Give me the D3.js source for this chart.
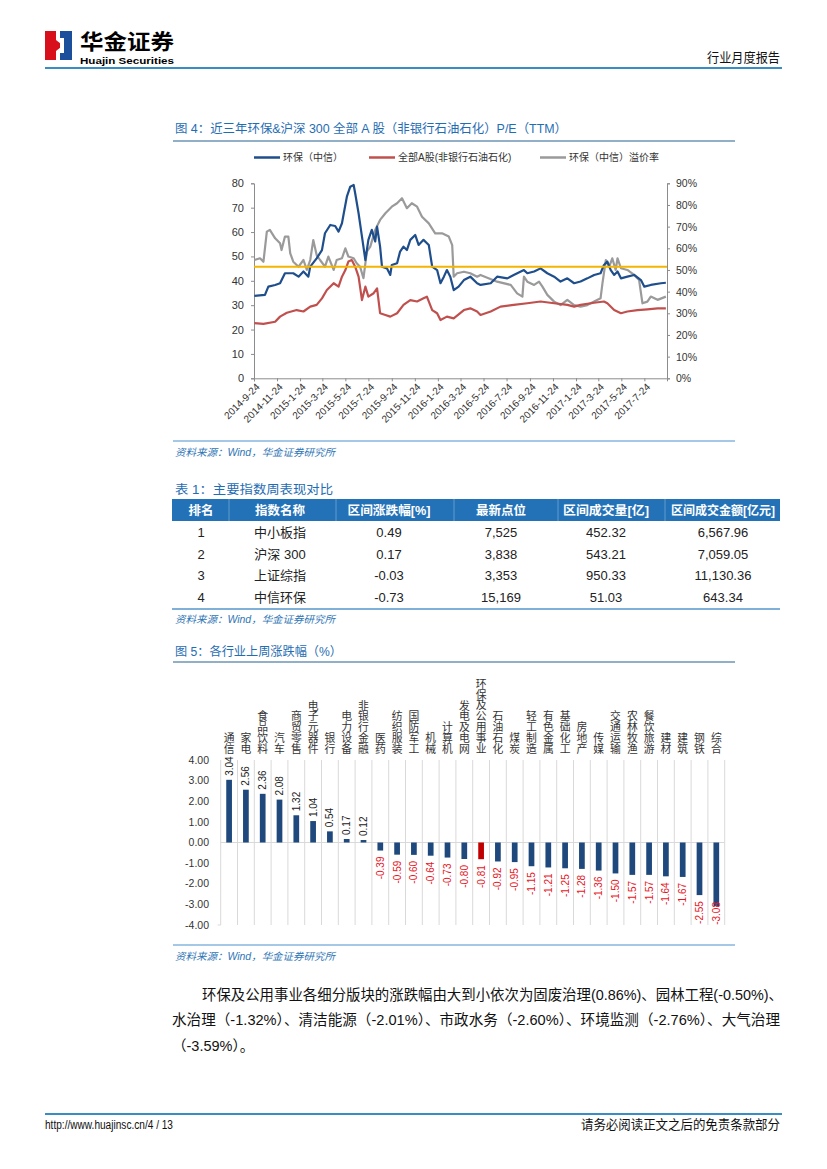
<!DOCTYPE html>
<html><head><meta charset="utf-8">
<script src="https://cdn.jsdelivr.net/npm/d3@7"></script>
<style>body{margin:0;background:#fff}svg{display:block}</style>
</head><body><svg id="page" width="827" height="1169"></svg>
<script>
// ---------------- DATA ----------------
// Figure 4: P/E (TTM) series [date, value]
const envPE = [["2014-09-25",33.8],["2014-10-23",34.2],["2014-11-01",37.6],["2014-11-19",38.3],["2014-12-02",39.0],["2014-12-15",43.1],["2015-01-06",43.1],["2015-01-20",41.7],["2015-02-02",43.8],["2015-02-15",41.7],["2015-02-20",45.8],["2015-03-09",49.2],["2015-03-23",52.6],["2015-03-31",59.5],["2015-04-14",62.9],["2015-04-27",62.5],["2015-05-06",60.2],["2015-05-15",63.6],["2015-05-19",67.0],["2015-05-28",74.5],["2015-06-06",78.6],["2015-06-15",79.3],["2015-06-19",75.9],["2015-06-28",67.7],["2015-07-07",58.1],["2015-07-16",48.5],["2015-07-24",56.8],["2015-08-02",60.9],["2015-08-11",56.1],["2015-08-16",62.2],["2015-08-24",54.0],["2015-08-29",45.8],["2015-09-11",45.1],["2015-09-20",42.4],["2015-09-24",46.5],["2015-10-08",47.2],["2015-10-16",52.0],["2015-10-25",54.0],["2015-11-03",52.6],["2015-11-12",56.8],["2015-11-25",58.8],["2015-12-04",54.7],["2015-12-17",56.8],["2015-12-31",54.7],["2016-01-09",45.8],["2016-01-22",44.4],["2016-01-31",39.0],["2016-02-09",41.7],["2016-02-17",44.4],["2016-02-26",41.7],["2016-03-06",36.2],["2016-03-19",37.6],["2016-04-02",40.3],["2016-04-19",41.7],["2016-05-07",39.0],["2016-05-16",38.3],["2016-06-12",39.0],["2016-06-29",41.7],["2016-07-26",41.0],["2016-08-12",42.4],["2016-09-08",44.4],["2016-09-17",43.1],["2016-10-05",43.8],["2016-10-22",45.1],["2016-11-09",43.1],["2016-11-27",41.7],["2016-12-14",39.7],["2017-01-01",41.0],["2017-01-19",39.0],["2017-02-05",39.7],["2017-02-23",41.0],["2017-03-13",42.4],["2017-03-30",43.1],["2017-04-08",46.5],["2017-04-17",47.9],["2017-04-26",44.4],["2017-05-05",42.4],["2017-05-14",43.8],["2017-05-23",41.0],["2017-06-09",41.7],["2017-06-27",42.4],["2017-07-15",40.3],["2017-07-24",37.6],["2017-08-10",38.3],["2017-09-06",39.0],["2017-09-19",39.2]];
const allAPE = [["2014-09-25",22.6],["2014-10-19",22.3],["2014-11-19",23.2],["2014-12-02",25.3],["2014-12-20",26.9],["2015-01-15",28.0],["2015-02-02",27.4],["2015-02-20",29.4],["2015-03-09",30.1],["2015-03-23",32.8],["2015-04-05",36.2],["2015-04-23",39.0],["2015-05-06",37.6],["2015-05-15",41.7],["2015-05-24",44.4],["2015-06-01",47.9],["2015-06-10",48.5],["2015-06-19",45.8],["2015-06-28",41.7],["2015-07-07",32.1],["2015-07-16",37.6],["2015-07-24",33.5],["2015-08-07",34.9],["2015-08-16",36.9],["2015-08-24",26.7],["2015-09-07",26.0],["2015-09-20",25.3],["2015-10-08",26.7],["2015-10-25",30.1],["2015-11-12",32.1],["2015-11-30",31.5],["2015-12-17",32.8],["2015-12-26",33.5],["2016-01-09",28.0],["2016-01-22",26.7],["2016-01-31",23.9],["2016-02-17",25.3],["2016-03-06",24.6],["2016-04-02",28.0],["2016-04-19",28.7],["2016-05-07",27.4],["2016-05-16",26.0],["2016-06-12",27.4],["2016-07-08",29.4],["2016-08-12",30.1],["2016-09-17",30.8],["2016-10-22",31.5],["2016-11-27",30.8],["2017-01-01",30.1],["2017-01-19",29.4],["2017-02-05",30.1],["2017-03-13",31.0],["2017-04-08",31.5],["2017-04-17",30.8],["2017-05-05",28.0],["2017-05-23",26.7],["2017-06-09",27.4],["2017-07-06",28.0],["2017-08-01",28.3],["2017-08-28",28.7],["2017-09-19",28.7]];
const premiumPct = [["2014-09-25",54.6],["2014-10-10",55.4],["2014-10-19",53.8],["2014-10-28",67.7],["2014-11-05",68.5],["2014-11-19",64.6],["2014-12-02",62.3],["2014-12-06",59.2],["2014-12-15",65.4],["2014-12-24",65.4],["2014-12-29",57.7],["2015-01-06",53.8],["2015-01-20",51.5],["2015-02-02",54.6],["2015-02-11",50.0],["2015-02-20",54.6],["2015-02-28",63.8],["2015-03-09",56.9],["2015-03-18",54.6],["2015-03-31",51.5],["2015-04-09",56.2],["2015-04-23",50.0],["2015-05-01",54.6],["2015-05-15",55.4],["2015-05-24",60.0],["2015-06-01",56.2],["2015-06-15",55.4],["2015-06-23",53.1],["2015-07-02",51.5],["2015-07-11",46.2],["2015-07-20",58.5],["2015-07-29",60.8],["2015-08-11",68.5],["2015-08-24",73.1],["2015-09-07",76.2],["2015-09-24",79.2],["2015-10-08",80.8],["2015-10-21",83.1],["2015-11-03",78.5],["2015-11-16",80.8],["2015-11-30",79.2],["2015-12-13",74.6],["2015-12-31",71.5],["2016-01-17",66.9],["2016-02-04",66.9],["2016-02-22",65.4],["2016-03-02",61.5],["2016-03-06",46.9],["2016-03-15",48.5],["2016-04-02",49.2],["2016-04-19",48.5],["2016-05-07",46.9],["2016-05-16",47.7],["2016-06-29",44.6],["2016-08-04",43.1],["2016-08-21",39.2],["2016-09-04",37.7],["2016-09-08",46.9],["2016-09-17",44.6],["2016-10-05",43.1],["2016-10-18",44.6],["2016-10-27",42.3],["2016-11-09",38.5],["2016-11-27",35.4],["2016-12-14",33.8],["2017-01-01",36.2],["2017-01-19",33.8],["2017-02-05",33.1],["2017-02-23",33.8],["2017-03-13",35.4],["2017-03-30",36.9],["2017-04-04",43.8],["2017-04-13",54.6],["2017-04-22",51.5],["2017-04-30",55.4],["2017-05-09",50.0],["2017-05-14",55.4],["2017-05-23",50.8],["2017-06-09",50.0],["2017-06-27",47.7],["2017-07-10",45.4],["2017-07-19",34.6],["2017-08-01",35.4],["2017-08-10",37.7],["2017-08-28",36.2],["2017-09-19",37.7]];
const premiumRefPct = 51.5;
const fig4Domain = ["2014-09-24","2017-09-22"];
const fig4XTicks = ["2014-9-24","2014-11-24","2015-1-24","2015-3-24","2015-5-24","2015-7-24","2015-9-24","2015-11-24","2016-1-24","2016-3-24","2016-5-24","2016-7-24","2016-9-24","2016-11-24","2017-1-24","2017-3-24","2017-5-24","2017-7-24"];
const fig4LeftTicks = [0,10,20,30,40,50,60,70,80];
const fig4RightTicks = [0,10,20,30,40,50,60,70,80,90];
const fig4Legend = ["环保（中信）","全部A股(非银行石油石化)","环保（中信）溢价率"];

// Table 1
const tableHeader = ["排名","指数名称","区间涨跌幅[%]","最新点位","区间成交量[亿]","区间成交金额[亿元]"];
const tRank = ["1","2","3","4"];
const tName = ["中小板指","沪深 300","上证综指","中信环保"];
const tChange = ["0.49","0.17","-0.03","-0.73"];
const tLast = ["7,525","3,838","3,353","15,169"];
const tVolume = ["452.32","543.21","950.33","51.03"];
const tAmount = ["6,567.96","7,059.05","11,130.36","643.34"];

// Figure 5
const industries = ["通信","家电","食品饮料","汽车","商贸零售","电子元器件","银行","电力设备","非银行金融","医药","纺织服装","国防军工","机械","计算机","发电及电网","环保及公用事业","石油石化","煤炭","轻工制造","有色金属","基础化工","房地产","传媒","交通运输","农林牧渔","餐饮旅游","建材","建筑","钢铁","综合"];
const weeklyChange = [3.04,2.56,2.36,2.08,1.32,1.04,0.54,0.17,0.12,-0.39,-0.59,-0.60,-0.64,-0.73,-0.80,-0.81,-0.92,-0.95,-1.15,-1.21,-1.25,-1.28,-1.36,-1.50,-1.57,-1.57,-1.64,-1.67,-2.55,-3.08];
const highlightIndustry = "环保及公用事业";
const fig5YTicks = [4,3,2,1,0,-1,-2,-3,-4];

const paragraph = ["环保及公用事业各细分版块的涨跌幅由大到小依次为固废治理(0.86%)、园林工程(-0.50%)、",
  "水治理（-1.32%）、清洁能源（-2.01%）、市政水务（-2.60%）、环境监测（-2.76%）、大气治理",
  "（-3.59%）。"];

// ---------------- DRAW ----------------
const FONT = "'Liberation Sans', Arial, 'Noto Sans CJK SC', sans-serif";
const CJK = "'Noto Sans CJK SC', sans-serif";
const svg = d3.select("#page");
svg.append("rect").attr("width",827).attr("height",1169).attr("fill","#fff");
function T(x,y,s,o={}){
  const t = svg.append("text").attr("x",x).attr("y",y).text(s)
    .attr("font-family",o.family||FONT).attr("font-size",o.size||12)
    .attr("fill",o.fill||"#000");
  if(o.anchor) t.attr("text-anchor",o.anchor);
  if(o.weight) t.attr("font-weight",o.weight);
  if(o.style) t.attr("font-style",o.style);
  if(o.len) t.attr("textLength",o.len).attr("lengthAdjust","spacingAndGlyphs");
  return t;
}
function L(x1,y1,x2,y2,c,w){ svg.append("line").attr("x1",x1).attr("y1",y1).attr("x2",x2).attr("y2",y2).attr("stroke",c).attr("stroke-width",w); }

// Header
svg.append("rect").attr("x",45).attr("y",31).attr("width",11).attr("height",29).attr("fill","#d8101c");
svg.append("rect").attr("x",60).attr("y",31).attr("width",12).attr("height",29).attr("fill","#1b4f9c");
svg.append("path").attr("d","M56,40 L63,45.5 L56,51 Z").attr("fill","#d8101c");
svg.append("path").attr("d","M60,38 L64,38 L64,53 L60,53 Z").attr("fill","#fff");
T(80,48.5,"华金证券",{size:21,weight:"bold",len:94,family:CJK});
T(80,63.5,"Huajin Securities",{size:9.5,weight:"bold",len:94});
T(780,62,"行业月度报告",{size:13,anchor:"end",len:73,fill:"#111"});
L(45,68,782,68,"#3a8cc4",2);

// ---------- Figure 4 ----------
const TITLE_BLUE = "#1f6db3";
T(175,133,"图 4：近三年环保&沪深 300 全部 A 股（非银行石油石化）P/E（TTM）",{size:12.5,fill:TITLE_BLUE,len:392});
L(173,141,735,141,"#24628f",1.2);

const parse = d3.timeParse("%Y-%m-%d");
const parseTick = d3.timeParse("%Y-%-m-%-d");
const x4 = d3.scaleTime().domain(fig4Domain.map(parse)).range([254,667]);
const yL = d3.scaleLinear().domain([0,80]).range([378.3,183.3]);
const yR = d3.scaleLinear().domain([0,90]).range([378.3,183.3]);

// left axis
const axL = svg.append("g").attr("transform","translate(254,0)")
  .call(d3.axisLeft(yL).tickValues(fig4LeftTicks).tickSize(3).tickPadding(7));
axL.select(".domain").attr("stroke","#8c8c8c");
axL.selectAll(".tick line").attr("stroke","#8c8c8c");
axL.selectAll("text").attr("font-family",FONT).attr("font-size",11).attr("fill","#333");
// right axis
const axR = svg.append("g").attr("transform","translate(667,0)")
  .call(d3.axisRight(yR).tickValues(fig4RightTicks).tickFormat(d=>d+"%").tickSize(3).tickPadding(6));
axR.select(".domain").attr("stroke","#8c8c8c");
axR.selectAll(".tick line").attr("stroke","#8c8c8c");
axR.selectAll("text").attr("font-family",FONT).attr("font-size",10.5).attr("fill","#333");
// bottom axis
const tickDates = fig4XTicks.map(parseTick);
const axB = svg.append("g").attr("transform","translate(0,378.3)")
  .call(d3.axisBottom(x4).tickValues(tickDates).tickSize(3).tickFormat(()=>""));
axB.select(".domain").attr("stroke","#8c8c8c");
axB.selectAll(".tick line").attr("stroke","#8c8c8c");
svg.append("g").selectAll("text").data(fig4XTicks).join("text")
  .attr("transform",(d,i)=>`translate(${x4(tickDates[i])+4},385) rotate(-45)`)
  .attr("text-anchor","end").attr("dy","0.35em")
  .attr("font-family",FONT).attr("font-size",10).attr("fill","#333").text(d=>d);

// lines
const lineL = d3.line().x(d=>x4(parse(d[0]))).y(d=>yL(d[1]));
const lineR = d3.line().x(d=>x4(parse(d[0]))).y(d=>yR(d[1]));
svg.append("path").datum(premiumPct).attr("d",lineR).attr("fill","none").attr("stroke","#9a9a9a").attr("stroke-width",2.2).attr("stroke-linejoin","round");
svg.append("path").datum(allAPE).attr("d",lineL).attr("fill","none").attr("stroke","#c0504d").attr("stroke-width",2.2).attr("stroke-linejoin","round");
svg.append("path").datum(envPE).attr("d",lineL).attr("fill","none").attr("stroke","#1f4e8c").attr("stroke-width",2.2).attr("stroke-linejoin","round");
svg.append("line").attr("x1",x4.range()[0]).attr("x2",x4.range()[1]).attr("y1",yR(premiumRefPct)).attr("y2",yR(premiumRefPct))
  .attr("stroke","#f5b400").attr("stroke-width",2);

// legend
const legColors = ["#1f4e8c","#c0504d","#9a9a9a"];
const legX = [254,369,540];
fig4Legend.forEach((s,i)=>{
  L(legX[i],157.5,legX[i]+26,157.5,legColors[i],2.5);
  T(legX[i]+29,161,s,{size:10,fill:"#333"});
});

L(173,441,735,441,"#86b6dc",1.5);
T(175,456,"资料来源：Wind，华金证券研究所",{size:10,fill:"#2e75b6",style:"italic",len:160});

// ---------- Table 1 ----------
T(175,494,"表 1：主要指数周表现对比",{size:12.5,fill:TITLE_BLUE,len:158});
svg.append("rect").attr("x",172).attr("y",499).attr("width",608).attr("height",22).attr("fill","#2372b8");
[229,336,454,558,665].forEach(x=>L(x,499,x,521,"#5f9bd0",1));
const colX = [201,280,389,501,606,723];
const headLen = [null,null,83,null,86,104];
tableHeader.forEach((s,i)=>T(colX[i],515,s,{size:12.5,weight:"bold",fill:"#fff",anchor:"middle",len:headLen[i]}));
const cols = [tRank,tName,tChange,tLast,tVolume,tAmount];
const rowY = [537,558.5,580,601.5];
cols.forEach((col,ci)=>col.forEach((s,ri)=>T(colX[ci],rowY[ri],s,{size:13,fill:"#222",anchor:"middle"})));
L(172,609,780,609,"#7fb0d8",2);
T(175,623,"资料来源：Wind，华金证券研究所",{size:10,fill:"#2e75b6",style:"italic",len:160});

// ---------- Figure 5 ----------
T(175,656,"图 5：各行业上周涨跌幅（%）",{size:12.5,fill:TITLE_BLUE,len:167});
L(173,662,735,662,"#24628f",1.2);

const x5 = d3.scaleBand().domain(industries).range([220.7,724.7]).padding(0);
const y5 = d3.scaleLinear().domain([-4,4]).range([925,760]);
const fmt = d3.formatLocale({decimal:".",thousands:",",grouping:[3],currency:["",""],minus:"-"}).format(".2f");
// grid verticals
const bounds = industries.map(d=>x5(d)).concat([x5.range()[1]]);
svg.append("g").selectAll("line").data(bounds).join("line")
  .attr("x1",d=>d).attr("x2",d=>d).attr("y1",y5(4)).attr("y2",y5(-4))
  .attr("stroke","#d9d9d9").attr("stroke-width",1);
L(x5.range()[0],y5(0),x5.range()[1],y5(0),"#d9d9d9",1);
L(x5.range()[0]-3,y5(-4),x5.range()[0],y5(-4),"#d9d9d9",1);
// y axis labels
svg.append("g").selectAll("text").data(fig5YTicks).join("text")
  .attr("x",209).attr("y",d=>y5(d)).attr("dy","0.35em").attr("text-anchor","end")
  .attr("font-family",FONT).attr("font-size",10.5).attr("fill","#333").text(d=>fmt(d));
// bars
const bw = x5.bandwidth()*0.34;
svg.append("g").selectAll("rect").data(industries).join("rect")
  .attr("x",d=>x5(d)+x5.bandwidth()/2-bw/2).attr("width",bw)
  .attr("y",(d,i)=>y5(Math.max(0,weeklyChange[i])))
  .attr("height",(d,i)=>Math.abs(y5(weeklyChange[i])-y5(0)))
  .attr("fill",d=>d===highlightIndustry?"#c00000":"#1f497d");
// value labels
svg.append("g").selectAll("text").data(industries).join("text")
  .attr("transform",(d,i)=>{
    const v=weeklyChange[i], cx=x5(d)+x5.bandwidth()/2+3.5;
    if(v>=0) return `translate(${cx},${y5(v)-4}) rotate(-90)`;
    return `translate(${cx},${Math.min(y5(v)+6, 902)}) rotate(-90)`;
  })
  .attr("text-anchor",(d,i)=>weeklyChange[i]>=0?"start":"end")
  .attr("font-family",FONT).attr("font-size",10)
  .attr("fill",(d,i)=>weeklyChange[i]>=0?"#222":"#e8141e")
  .text((d,i)=>fmt(weeklyChange[i]));
// category labels: vertical upright text
svg.append("g").selectAll("text").data(industries).join("text")
  .attr("x",d=>x5(d)+x5.bandwidth()/2).attr("y",754)
  .attr("writing-mode","vertical-rl")
  .style("text-orientation","upright")
  .attr("text-anchor","end")
  .attr("font-family",CJK).attr("font-size",10.8).attr("fill","#333")
  .text(d=>d);
L(173,945,735,945,"#86b6dc",1.5);
T(175,960,"资料来源：Wind，华金证券研究所",{size:10,fill:"#2e75b6",style:"italic",len:160});

// paragraph
T(202,1000,paragraph[0],{size:14.5,fill:"#111",len:581});
T(172,1025,paragraph[1],{size:14.5,fill:"#111",len:608});
T(172,1051,paragraph[2],{size:14.5,fill:"#111"});

// footer
L(45,1114,782,1114,"#3a8cc4",2);
T(45,1129,"http://www.huajinsc.cn/4 / 13",{size:12,fill:"#111",len:128});
T(780,1129,"请务必阅读正文之后的免责条款部分",{size:13,fill:"#111",anchor:"end",len:199});
</script></body></html>
